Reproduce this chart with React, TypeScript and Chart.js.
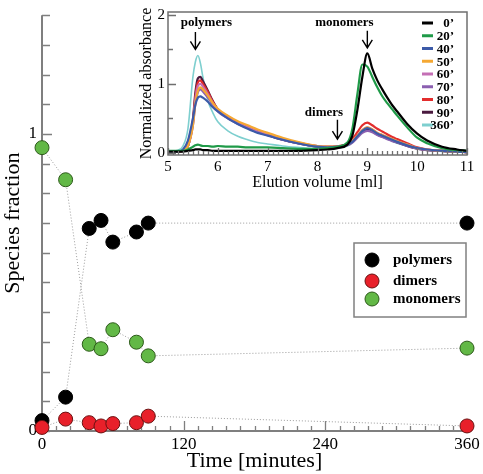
import React, { useEffect, useRef } from "react";
import { Chart, registerables } from "chart.js";
Chart.register(...registerables);

const SERIF = "'Liberation Serif', 'Times New Roman', serif";

// ---------- main chart data ----------
const times = [0, 20, 40, 50, 60, 80, 90, 360];
const polymers = [0.035, 0.114, 0.682, 0.709, 0.636, 0.67, 0.7, 0.7];
const dimers = [0.012, 0.04, 0.028, 0.017, 0.025, 0.028, 0.05, 0.017];
const monomers = [0.954, 0.846, 0.292, 0.277, 0.341, 0.299, 0.253, 0.279];
const timeTicks = [0, 120, 240, 360];
const fractionTicks = [0, 1];
const speciesNames = ["polymers", "dimers", "monomers"];
const speciesColors = ["#000000", "#e8202a", "#62b846"];
const speciesBorders = ["#000000", "#6a1010", "#2d5a1a"];

// ---------- inset chart data ----------
const elution = [5.0, 5.2, 5.3, 5.4, 5.5, 5.55, 5.6, 5.65, 5.7, 5.8, 5.9, 6.0, 6.2, 6.4, 6.6, 6.8, 7.0, 7.3, 7.6, 8.0, 8.2, 8.4, 8.6, 8.7, 8.8, 8.9, 9.0, 9.1, 9.2, 9.3, 9.4, 9.5, 9.6, 9.8, 10.0, 10.2, 10.5, 10.8, 11.0];
const abs0 = [0.02, 0.02, 0.02, 0.03, 0.04, 0.05, 0.05, 0.05, 0.04, 0.04, 0.03, 0.03, 0.03, 0.03, 0.03, 0.03, 0.03, 0.03, 0.03, 0.04, 0.05, 0.07, 0.12, 0.25, 0.62, 1.1, 1.44, 1.22, 1.05, 0.92, 0.8, 0.69, 0.6, 0.42, 0.28, 0.18, 0.09, 0.05, 0.03];
const abs20 = [0.03, 0.03, 0.03, 0.05, 0.09, 0.11, 0.12, 0.11, 0.1, 0.1, 0.09, 0.1, 0.09, 0.09, 0.08, 0.08, 0.08, 0.07, 0.06, 0.06, 0.07, 0.09, 0.15, 0.35, 0.85, 1.28, 1.25, 1.1, 0.95, 0.82, 0.72, 0.63, 0.54, 0.37, 0.22, 0.14, 0.07, 0.04, 0.03];
const abs40 = [0.02, 0.02, 0.05, 0.18, 0.5, 0.7, 0.8, 0.82, 0.8, 0.74, 0.66, 0.6, 0.5, 0.42, 0.35, 0.29, 0.25, 0.19, 0.14, 0.09, 0.08, 0.09, 0.12, 0.16, 0.24, 0.32, 0.36, 0.33, 0.28, 0.25, 0.22, 0.19, 0.16, 0.11, 0.07, 0.05, 0.03, 0.02, 0.01];
const abs50 = [0.02, 0.02, 0.03, 0.1, 0.4, 0.72, 0.9, 0.95, 0.92, 0.83, 0.72, 0.64, 0.54, 0.46, 0.4, 0.34, 0.29, 0.22, 0.16, 0.1, 0.09, 0.09, 0.12, 0.17, 0.25, 0.33, 0.37, 0.34, 0.29, 0.26, 0.23, 0.2, 0.17, 0.12, 0.07, 0.05, 0.03, 0.02, 0.01];
const abs60 = [0.02, 0.02, 0.03, 0.1, 0.42, 0.78, 0.97, 1.0, 0.96, 0.85, 0.72, 0.62, 0.51, 0.43, 0.37, 0.31, 0.27, 0.2, 0.15, 0.1, 0.09, 0.09, 0.12, 0.17, 0.25, 0.33, 0.37, 0.34, 0.29, 0.26, 0.23, 0.2, 0.17, 0.12, 0.07, 0.05, 0.03, 0.02, 0.01];
const abs70 = [0.02, 0.02, 0.03, 0.1, 0.4, 0.72, 0.88, 0.92, 0.89, 0.8, 0.7, 0.6, 0.5, 0.42, 0.36, 0.3, 0.26, 0.19, 0.14, 0.09, 0.08, 0.08, 0.11, 0.15, 0.22, 0.29, 0.32, 0.3, 0.26, 0.23, 0.2, 0.17, 0.15, 0.1, 0.06, 0.04, 0.03, 0.02, 0.01];
const abs80 = [0.02, 0.02, 0.03, 0.1, 0.45, 0.82, 1.02, 1.05, 1.0, 0.88, 0.74, 0.63, 0.52, 0.44, 0.37, 0.31, 0.27, 0.2, 0.15, 0.1, 0.09, 0.1, 0.13, 0.2, 0.3, 0.4, 0.44, 0.4, 0.35, 0.31, 0.27, 0.23, 0.2, 0.14, 0.08, 0.05, 0.03, 0.02, 0.01];
const abs90 = [0.02, 0.02, 0.03, 0.1, 0.48, 0.88, 1.08, 1.1, 1.04, 0.9, 0.75, 0.63, 0.52, 0.44, 0.37, 0.31, 0.26, 0.19, 0.14, 0.09, 0.08, 0.09, 0.12, 0.17, 0.24, 0.31, 0.34, 0.32, 0.27, 0.24, 0.21, 0.18, 0.15, 0.1, 0.06, 0.04, 0.03, 0.02, 0.01];
const abs360 = [0.02, 0.04, 0.1, 0.35, 1.1, 1.32, 1.41, 1.3, 1.1, 0.76, 0.58, 0.45, 0.32, 0.24, 0.19, 0.15, 0.13, 0.1, 0.08, 0.06, 0.06, 0.07, 0.1, 0.15, 0.23, 0.31, 0.34, 0.31, 0.26, 0.23, 0.2, 0.17, 0.14, 0.1, 0.06, 0.04, 0.02, 0.01, 0.01];
const insetSeries = [abs0, abs20, abs40, abs50, abs60, abs70, abs80, abs90, abs360];
const insetLabels = ["0\u2019", "20\u2019", "40\u2019", "50\u2019", "60\u2019", "70\u2019", "80\u2019", "90\u2019", "360\u2019"];
const insetColors = ["#000000", "#1f9a48", "#3c5aa8", "#f5a833", "#c46fb5", "#8b5fb0", "#e32d2d", "#4a1a3f", "#7ecfcf"];
const elutionTicks = [5, 6, 7, 8, 9, 10, 11];
const absTicks = [0, 1, 2];
const annotations = [
  { text: "polymers", tx: 5.77, ty: 1.88, ax: 5.55, ay1: 1.75, ay2: 1.5 },
  { text: "monomers", tx: 8.54, ty: 1.88, ax: 9.0, ay1: 1.77, ay2: 1.52 },
  { text: "dimers", tx: 8.13, ty: 0.59, ax: 8.4, ay1: 0.48, ay2: 0.2 },
];

function drawInTicks(ctx: CanvasRenderingContext2D, chart: any, xt: [number, number][], yt: [number, number][], color: string) {
  const { x, y } = chart.scales;
  const a = chart.chartArea;
  ctx.save();
  ctx.strokeStyle = color;
  ctx.lineWidth = 1.3;
  ctx.beginPath();
  for (const [v, len] of xt) {
    const px = Math.round(x.getPixelForValue(v)) + 0.5;
    ctx.moveTo(px, a.bottom);
    ctx.lineTo(px, a.bottom - len);
  }
  for (const [v, len] of yt) {
    const py = Math.round(y.getPixelForValue(v)) + 0.5;
    ctx.moveTo(a.left, py);
    ctx.lineTo(a.left + len, py);
  }
  ctx.stroke();
  ctx.restore();
}

const mainPlugin = {
  id: "mainDeco",
  beforeDatasetsDraw(chart: any) {
    const ctx = chart.ctx;
    const a = chart.chartArea;
    const xt: [number, number][] = [];
    for (let v = 0; v <= 360; v += 12) xt.push([v, v % 120 === 0 ? 10 : 5]);
    const yt: [number, number][] = [];
    for (let i = 0; i <= 14; i++) yt.push([i / 10, i === 10 ? 10 : 8]);
    drawInTicks(ctx, chart, xt, yt, "#7f7f7f");
    ctx.save();
    ctx.strokeStyle = "#7f7f7f";
    ctx.lineWidth = 2;
    ctx.beginPath();
    ctx.moveTo(a.left, a.top);
    ctx.lineTo(a.left, a.bottom);
    ctx.lineTo(a.right, a.bottom);
    ctx.stroke();
    ctx.restore();
  },
  afterDraw(chart: any) {
    const ctx = chart.ctx;
    ctx.save();
    ctx.fillStyle = "#ffffff";
    ctx.fillRect(354, 243, 112, 74);
    ctx.strokeStyle = "#808080";
    ctx.lineWidth = 1.5;
    ctx.strokeRect(354, 243, 112, 74);
    const rows = [260, 281, 299];
    speciesNames.forEach((name, i) => {
      ctx.beginPath();
      ctx.arc(372, rows[i], 7, 0, Math.PI * 2);
      ctx.fillStyle = speciesColors[i];
      ctx.fill();
      ctx.strokeStyle = speciesBorders[i];
      ctx.lineWidth = 1;
      ctx.stroke();
      ctx.fillStyle = "#000";
      ctx.font = `bold 15px ${SERIF}`;
      ctx.textBaseline = "middle";
      ctx.textAlign = "left";
      ctx.fillText(name, 393, rows[i]);
    });
    ctx.restore();
  },
};

const insetPlugin = {
  id: "insetDeco",
  afterDatasetsDraw(chart: any) {
    const ctx = chart.ctx;
    const a = chart.chartArea;
    const { x, y } = chart.scales;
    const xt: [number, number][] = [];
    for (let i = 50; i <= 110; i++) xt.push([i / 10, i % 10 === 0 ? 7 : 4]);
    const yt: [number, number][] = [];
    for (let i = 0; i <= 4; i++) yt.push([i / 2, i % 2 === 0 ? 8 : 5]);
    drawInTicks(ctx, chart, xt, yt, "#6f6f6f");
    ctx.save();
    ctx.strokeStyle = "#6f6f6f";
    ctx.lineWidth = 1.5;
    ctx.strokeRect(a.left, a.top, a.right - a.left, a.bottom - a.top);
    // annotations
    ctx.fillStyle = "#000";
    ctx.strokeStyle = "#000";
    ctx.font = `bold 13px ${SERIF}`;
    ctx.textAlign = "center";
    ctx.textBaseline = "middle";
    for (const an of annotations) {
      ctx.fillText(an.text, x.getPixelForValue(an.tx), y.getPixelForValue(an.ty));
      const ax = x.getPixelForValue(an.ax);
      const y1 = y.getPixelForValue(an.ay1);
      const y2 = y.getPixelForValue(an.ay2);
      ctx.lineWidth = 1.4;
      ctx.beginPath();
      ctx.moveTo(ax, y1);
      ctx.lineTo(ax, y2);
      ctx.moveTo(ax - 5, y2 - 8);
      ctx.lineTo(ax, y2);
      ctx.lineTo(ax + 5, y2 - 8);
      ctx.stroke();
    }
    // legend
    ctx.font = `bold 13px ${SERIF}`;
    ctx.textAlign = "right";
    insetLabels.forEach((lab, i) => {
      const ry = a.top + 11 + i * 12.75;
      ctx.strokeStyle = insetColors[i];
      ctx.lineWidth = 3;
      ctx.beginPath();
      ctx.moveTo(a.right - 45, ry);
      ctx.lineTo(a.right - 34, ry);
      ctx.stroke();
      ctx.fillStyle = "#000";
      ctx.fillText(lab, a.right - 13, ry + 1);
    });
    ctx.restore();
  },
};

export default function App() {
  const mainRef = useRef<HTMLCanvasElement>(null);
  const insetRef = useRef<HTMLCanvasElement>(null);

  useEffect(() => {
    document.body.style.margin = "0";
    const order = [1, 0, 2];
    const mainChart = new Chart(mainRef.current!, {
      type: "scatter",
      data: {
        datasets: order.map((k) => {
          const vals = [polymers, dimers, monomers][k];
          return {
            label: speciesNames[k],
            data: times.map((t, i) => ({ x: t, y: vals[i] })),
            showLine: true,
            borderColor: "#9a9a9a",
            borderWidth: 1,
            borderDash: [1, 2],
            pointRadius: 7,
            pointHoverRadius: 7,
            pointBackgroundColor: speciesColors[k],
            pointBorderColor: speciesBorders[k],
            pointBorderWidth: 1,
            clip: false,
          } as any;
        }),
      },
      options: {
        animation: false,
        responsive: false,
        events: [],
        layout: { padding: { top: 12, right: 16, left: 0, bottom: 0 } },
        plugins: { legend: { display: false }, tooltip: { enabled: false } },
        scales: {
          x: {
            type: "linear",
            min: 0,
            max: 360,
            afterBuildTicks: (s: any) => { s.ticks = timeTicks.map((v) => ({ value: v })); },
            afterFit: (s: any) => { s.height = 43; },
            grid: { display: false, drawTicks: false },
            border: { display: false },
            ticks: { font: { family: SERIF, size: 17 }, color: "#000", padding: 3, maxRotation: 0, autoSkip: false },
            title: { display: true, text: "Time [minutes]", font: { family: SERIF, size: 22 }, color: "#000", padding: 0 },
          },
          y: {
            type: "linear",
            min: 0,
            max: 1.4,
            afterBuildTicks: (s: any) => { s.ticks = fractionTicks.map((v) => ({ value: v })); },
            afterFit: (s: any) => { s.width = 42; },
            grid: { display: false, drawTicks: false },
            border: { display: false },
            ticks: { font: { family: SERIF, size: 17 }, color: "#000", padding: 5 },
            title: { display: true, text: "Species fraction", font: { family: SERIF, size: 22 }, color: "#000", padding: 0 },
          },
        },
      } as any,
      plugins: [mainPlugin],
    });

    const insetChart = new Chart(insetRef.current!, {
      type: "line",
      data: {
        datasets: insetSeries.map((vals, i) => ({
          label: insetLabels[i],
          data: elution.map((e, j) => ({ x: e, y: vals[j] })),
          borderColor: insetColors[i],
          borderWidth: i === 8 ? 1.6 : 2.2,
          pointRadius: 0,
          cubicInterpolationMode: "monotone",
          fill: false,
        })) as any,
      },
      options: {
        animation: false,
        responsive: false,
        events: [],
        layout: { padding: { top: 4, right: 16, left: 0, bottom: 0 } },
        plugins: { legend: { display: false }, tooltip: { enabled: false } },
        scales: {
          x: {
            type: "linear",
            min: 5,
            max: 11,
            afterBuildTicks: (s: any) => { s.ticks = elutionTicks.map((v) => ({ value: v })); },
            afterFit: (s: any) => { s.height = 40; },
            grid: { display: false, drawTicks: false },
            border: { display: false },
            ticks: { font: { family: SERIF, size: 15 }, color: "#000", padding: 3, maxRotation: 0, autoSkip: false },
            title: { display: true, text: "Elution volume [ml]", font: { family: SERIF, size: 16 }, color: "#000", padding: { top: 0, bottom: 3 } },
          },
          y: {
            type: "linear",
            min: -0.03,
            max: 2.04,
            afterBuildTicks: (s: any) => { s.ticks = absTicks.map((v) => ({ value: v })); },
            afterFit: (s: any) => { s.width = 38; },
            grid: { display: false, drawTicks: false },
            border: { display: false },
            ticks: { font: { family: SERIF, size: 15 }, color: "#000", padding: 3 },
            title: { display: true, text: "Normalized absorbance", font: { family: SERIF, size: 16 }, color: "#000", padding: { top: 7, bottom: 0 } },
          },
        },
      } as any,
      plugins: [insetPlugin],
    });

    return () => {
      mainChart.destroy();
      insetChart.destroy();
    };
  }, []);

  return (
    <div style={{ position: "relative", width: 483, height: 474, background: "#fff" }}>
      <canvas ref={mainRef} width={483} height={474} style={{ position: "absolute", left: 0, top: 0 }} />
      <canvas ref={insetRef} width={353} height={195} style={{ position: "absolute", left: 130, top: 0 }} />
    </div>
  );
}
